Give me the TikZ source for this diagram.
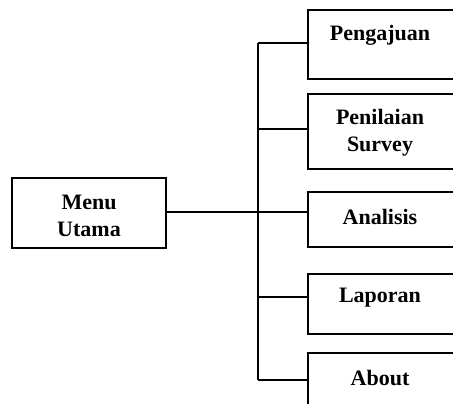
\documentclass[tikz,border=0pt]{standalone}
\usepackage{fontspec}
\setmainfont{Liberation Serif}
\usepackage{tikz}

\begin{document}
\begin{tikzpicture}[x=0.5pt, y=-0.5pt, line width=1pt,
		menubox/.style={draw, rectangle, inner sep=0pt},
		menutext/.style={font=\bfseries\fontsize{11}{13.5}\selectfont, align=center, inner sep=0pt}]
				\useasboundingbox (0,0) rectangle (453,403);
				\clip (0,0) rectangle (453,403);
				
				% menu utama
				\node[menubox, minimum width=77pt, minimum height=35pt] (utama) at (89,213) {};
				\node[menutext] (tutama) at (89,216) {Menu\\Utama};
				
				% kotak sub menu (ujung kanan terpotong)
				\node[menubox, minimum width=81pt, minimum height=34.5pt] (pengajuan) at (389,44.5) {};
				\node[menubox, minimum width=81pt, minimum height=37.5pt] (penilaian) at (389,131.5) {};
				\node[menubox, minimum width=81pt, minimum height=27.5pt] (analisis) at (389,219.5) {};
				\node[menubox, minimum width=81pt, minimum height=30pt] (laporan) at (389,303.5) {};
				\node[menubox, minimum width=81pt, minimum height=35pt] (about) at (389,388) {};
				
				\node[menutext] (tpengajuan) at (380,35) {Pengajuan};
				\node[menutext] (tpenilaian) at (380,133) {Penilaian\\Survey};
				\node[menutext] (tanalisis) at (380,217) {Analisis};
				\node[menutext] (tlaporan) at (380,298) {Laporan};
				\node[menutext] (tabout) at (380,378) {About};
				
				% garis penghubung
				\coordinate (bus1) at (258,43);
				\coordinate (bus2) at (258,129);
				\coordinate (bus3) at (258,212);
				\coordinate (bus4) at (258,297);
				\coordinate (bus5) at (258,380);
				
				\draw (bus1) -- (bus5);
				\draw (utama.east |- bus3) -- (bus3);
				\draw (bus1) -- (bus1 -| pengajuan.west);
				\draw (bus2) -- (bus2 -| penilaian.west);
				\draw (bus3) -- (bus3 -| analisis.west);
				\draw (bus4) -- (bus4 -| laporan.west);
				\draw (bus5) -- (bus5 -| about.west);
			\end{tikzpicture}
\end{document}
